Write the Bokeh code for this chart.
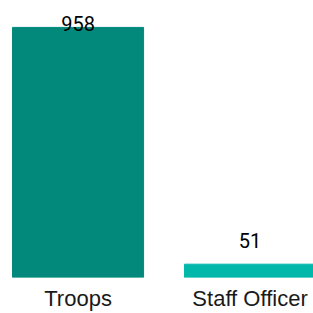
from bokeh.plotting import figure
from bokeh.models import ColumnDataSource, Range1d, FixedTicker
from bokeh.core.properties import value
from bokeh.embed import file_html
from bokeh.resources import INLINE

categories = ["Troops", "Staff Officer"]
counts = [958, 51]
colors = ["#02897C", "#00B8A9"]

xs = [i + 0.5 for i in range(len(categories))]
ymax = max(counts)
# label offsets in screen pixels (positive = down): top label pushed inside the frame
offsets = [4 if c == ymax else -16 for c in counts]

src = ColumnDataSource(dict(x=xs, top=counts, color=colors,
                            label=[str(c) for c in counts], yoff=offsets))

p = figure(width=313, height=313, output_backend="svg", toolbar_location=None,
           x_range=Range1d(0.049, 1.869), y_range=Range1d(0, ymax * 278 / 251),
           min_border_left=0, min_border_right=0, min_border_top=0, min_border_bottom=35)
p.vbar(x="x", top="top", bottom=0, width=0.762, color="color", source=src)
p.text(x="x", y="top", text="label", y_offset="yoff", source=src,
       text_align="center", text_baseline="bottom",
       text_font=value("Roboto"), text_font_size="20px", text_color="#000000")

p.outline_line_color = None
p.grid.visible = False
p.yaxis.visible = False
ax = p.xaxis[0]
ax.ticker = FixedTicker(ticks=xs)
ax.major_label_overrides = {x: c for x, c in zip(xs, categories)}
ax.axis_line_color = None
ax.major_tick_line_color = None
ax.minor_tick_line_color = None
ax.major_tick_in = 0
ax.major_tick_out = 0
ax.major_label_text_font = "Liberation Sans"
ax.major_label_text_font_size = "22px"
ax.major_label_text_color = "#1a1a1a"
ax.major_label_standoff = 8

open("out.html", "w").write(file_html(p, INLINE))
